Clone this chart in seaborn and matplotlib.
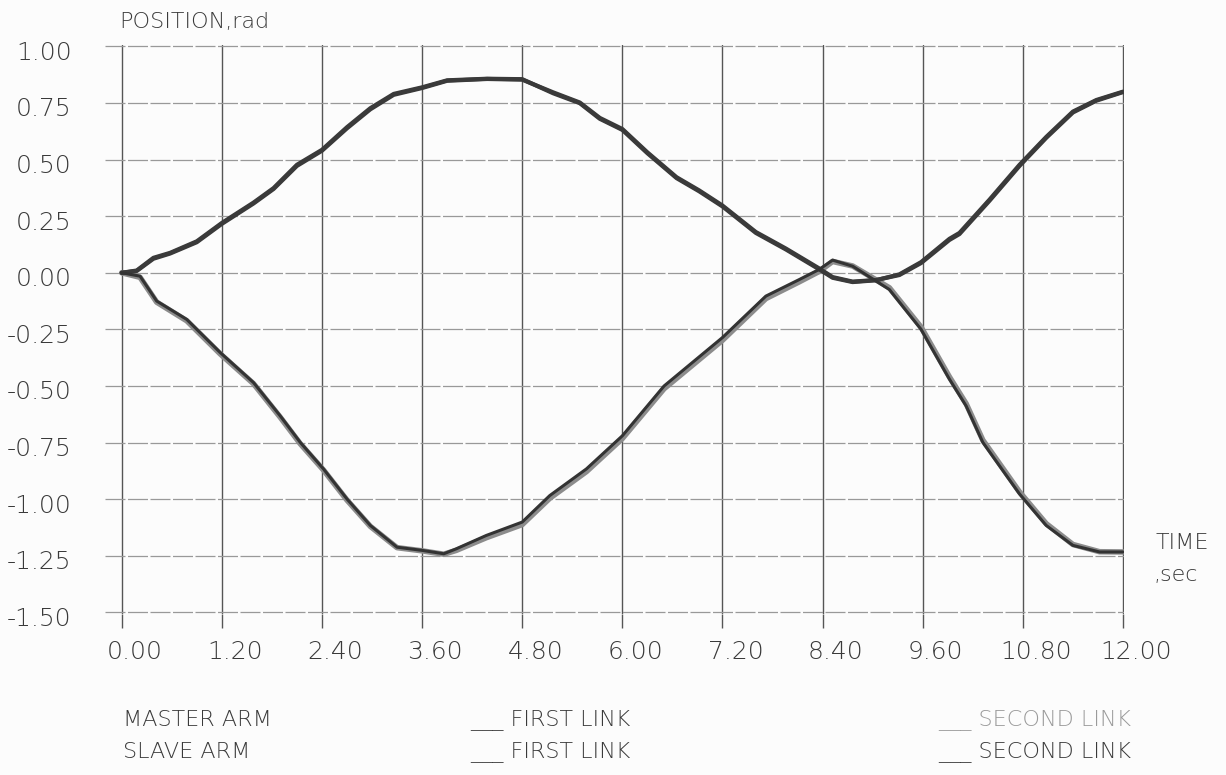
import numpy as np
import pandas as pd
import matplotlib
matplotlib.use("Agg")
import matplotlib.pyplot as plt
import matplotlib.transforms as mtransforms
import seaborn as sns

# values (time in s, position in rad)
t_first = [0.0, 0.18, 0.38, 0.58, 0.9, 1.2, 1.58, 1.82, 2.1, 2.4, 2.7, 2.98, 3.26,
           3.6, 3.9, 4.38, 4.8, 5.17, 5.49, 5.73, 6.0, 6.3, 6.65, 6.92, 7.2, 7.6,
           7.96, 8.36, 8.52, 8.76, 9.04, 9.32, 9.58, 9.92, 10.04, 10.4, 10.76,
           11.08, 11.4, 11.68, 12.0]
first_master = [0.0, 0.01, 0.066, 0.088, 0.139, 0.22, 0.31, 0.374, 0.477, 0.543, 0.643,
                0.727, 0.79, 0.819, 0.85, 0.857, 0.855, 0.793, 0.749, 0.68, 0.631, 0.528,
                0.418, 0.36, 0.293, 0.176, 0.103, 0.015, -0.022, -0.041, -0.033, -0.007,
                0.047, 0.15, 0.176, 0.323, 0.477, 0.60, 0.712, 0.763, 0.80]
first_slave = [0.0, 0.008, 0.062, 0.085, 0.135, 0.216, 0.306, 0.37, 0.472, 0.539, 0.638,
               0.722, 0.786, 0.816, 0.848, 0.856, 0.853, 0.797, 0.752, 0.684, 0.635, 0.532,
               0.422, 0.364, 0.297, 0.18, 0.107, 0.019, -0.019, -0.039, -0.032, -0.01,
               0.043, 0.145, 0.171, 0.318, 0.472, 0.596, 0.708, 0.76, 0.798]

t_second = [0.0, 0.22, 0.42, 0.78, 1.18, 1.58, 1.9, 2.14, 2.42, 2.7, 2.98, 3.3, 3.6,
            3.86, 4.01, 4.37, 4.8, 5.13, 5.57, 6.0, 6.5, 7.2, 7.72, 8.12, 8.36, 8.52,
            8.76, 9.2, 9.58, 9.92, 10.12, 10.32, 10.76, 11.08, 11.4, 11.72, 12.0]
second_master = [0.0, -0.02, -0.13, -0.212, -0.358, -0.49, -0.638, -0.755, -0.872, -1.004,
                 -1.12, -1.214, -1.228, -1.243, -1.226, -1.17, -1.112, -0.996, -0.878,
                 -0.732, -0.512, -0.298, -0.114, -0.04, 0.006, 0.05, 0.03, -0.066,
                 -0.24, -0.46, -0.578, -0.739, -0.968, -1.108, -1.2, -1.232, -1.233]
second_slave = [0.0, -0.015, -0.125, -0.206, -0.352, -0.485, -0.632, -0.749, -0.867, -0.999,
                -1.116, -1.212, -1.226, -1.241, -1.219, -1.16, -1.101, -0.984, -0.866,
                -0.72, -0.5, -0.286, -0.103, -0.03, 0.015, 0.056, 0.029, -0.074, -0.25,
                -0.47, -0.588, -0.749, -0.977, -1.116, -1.204, -1.233, -1.233]

x_ticks = [0.0, 1.2, 2.4, 3.6, 4.8, 6.0, 7.2, 8.4, 9.6, 10.8, 12.0]
y_ticks = [1.0, 0.75, 0.5, 0.25, 0.0, -0.25, -0.5, -0.75, -1.0, -1.25, -1.5]

sns.set_style("white")
plt.rcParams['font.family'] = ['DejaVu Sans']
plt.rcParams['font.weight'] = 'light'

fig = plt.figure(figsize=(12.26, 7.75), dpi=100)
fig.patch.set_facecolor('#fcfcfc')
ax = fig.add_axes([105 / 1226, 1 - 614 / 775, (1124 - 105) / 1226, (614 - 45) / 775])
ax.set_facecolor('#fcfcfc')

sns.lineplot(x=t_first, y=first_master, ax=ax, color='#3a3a3a', lw=3.0, zorder=5)
sns.lineplot(x=t_first, y=first_slave, ax=ax, color='#3a3a3a', lw=3.0, zorder=5)
sns.lineplot(x=t_second, y=second_master, ax=ax, color='#8c8c8c', lw=4.0, zorder=4)
sns.lineplot(x=t_second, y=second_slave, ax=ax, color='#333333', lw=2.2, zorder=6)

ax.set_xlim(-0.2, 12.012)
ax.set_ylim(-1.507, 1.006)
ax.set_xticks(x_ticks)
ax.set_xticklabels([f"{v:.2f}" for v in x_ticks])
ax.set_yticks(y_ticks)
ax.set_yticklabels([f"{v:.2f}" for v in y_ticks])

for s in ax.spines.values():
    s.set_visible(False)

ax.grid(axis='x', color='#555555', lw=1.0, ls='-')
ax.grid(axis='y', color='#999999', lw=0.9, ls=(0, (16, 2)))
ax.tick_params(axis='x', direction='out', length=10, width=1.0, color='#555555',
               pad=9, labelsize=18, labelcolor='#3a3a3a', bottom=True)
ax.tick_params(axis='y', length=0, pad=24, labelsize=18, labelcolor='#3a3a3a')

offset = mtransforms.ScaledTranslation(0.13, 0, fig.dpi_scale_trans)
for lbl in ax.get_xticklabels():
    lbl.set_transform(lbl.get_transform() + offset)
yoff = mtransforms.ScaledTranslation(0, -0.04, fig.dpi_scale_trans)
for lbl in ax.get_yticklabels():
    lbl.set_transform(lbl.get_transform() + yoff)

txt = dict(fontsize=16, color='#3a3a3a')
fig.text(119 / 1226, 1 - 22 / 775, "POSITION,rad", va='center', ha='left', **txt)
fig.text(1155 / 1226, 1 - 543 / 775, "TIME", va='center', ha='left', **txt)
fig.text(1153 / 1226, 1 - 575 / 775, ",sec", va='center', ha='left', **txt)

fig.text(123 / 1226, 1 - 720 / 775, "MASTER ARM", va='center', ha='left', **txt)
fig.text(123 / 1226, 1 - 752 / 775, "SLAVE ARM", va='center', ha='left', **txt)
fig.text(470 / 1226, 1 - 720 / 775, "___ FIRST LINK", va='center', ha='left', **txt)
fig.text(470 / 1226, 1 - 752 / 775, "___ FIRST LINK", va='center', ha='left', **txt)
fig.text(938 / 1226, 1 - 720 / 775, "___ SECOND LINK", va='center', ha='left',
         fontsize=16, color='#9a9a9a')
fig.text(938 / 1226, 1 - 752 / 775, "___ SECOND LINK", va='center', ha='left', **txt)

fig.savefig("out.png", dpi=100, facecolor=fig.get_facecolor())
